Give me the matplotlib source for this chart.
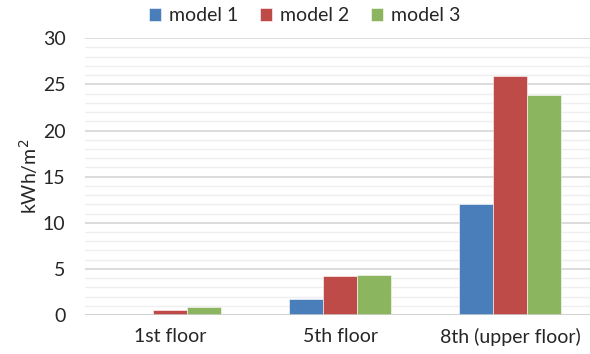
import matplotlib.pyplot as plt
import numpy as np
from matplotlib.ticker import MultipleLocator

# energy per floor for the three models
floors = ['1st floor', '5th floor', '8th (upper floor)']
model_names = ['model 1', 'model 2', 'model 3']
model1 = [0.1, 1.75, 12.0]
model2 = [0.55, 4.27, 25.9]
model3 = [0.9, 4.37, 23.9]
colors = ['#4A7EBB', '#BE4B48', '#8CB560']

plt.rcParams['font.family'] = ['Lato', 'DejaVu Sans']

fig = plt.figure(figsize=(5.9, 3.54), dpi=100)
ax = fig.add_axes([0.144, 0.110, 0.856, 0.782])

x = np.arange(len(floors))
w = 0.2
for i, (vals, name) in enumerate(zip([model1, model2, model3], model_names)):
    ax.bar(x + (i - 1) * w, vals, w, color=colors[i], label=name,
           edgecolor='white', linewidth=0.4, zorder=3)

ax.set_xlim(-0.5, 2.47)
ax.set_ylim(0, 30)
ax.yaxis.set_major_locator(MultipleLocator(5))
ax.yaxis.set_minor_locator(MultipleLocator(1))
ax.grid(axis='y', which='major', color='#d9d9d9', linewidth=1.3, zorder=0)
ax.grid(axis='y', which='minor', color='#efefef', linewidth=1.0, zorder=0)
ax.axhline(0, color='#d0d0d0', linewidth=1.8, zorder=4)

for s in ax.spines.values():
    s.set_visible(False)
ax.tick_params(axis='both', which='both', length=0, labelsize=14, colors='#262626')
ax.tick_params(axis='x', pad=9)
ax.tick_params(axis='y', pad=14)
ax.set_xticks(x)
ax.set_xticklabels(floors)
ax.set_ylabel('kWh/m$^2$', fontsize=14, color='#262626', labelpad=2)

ax.legend(loc='upper center', bbox_to_anchor=(0.5 - 0.065, 1.175), ncol=3,
          frameon=False, fontsize=14, handlelength=0.65, handleheight=0.65,
          handletextpad=0.4, columnspacing=1.1, labelcolor='#262626')

plt.savefig('out.png', dpi=100)
